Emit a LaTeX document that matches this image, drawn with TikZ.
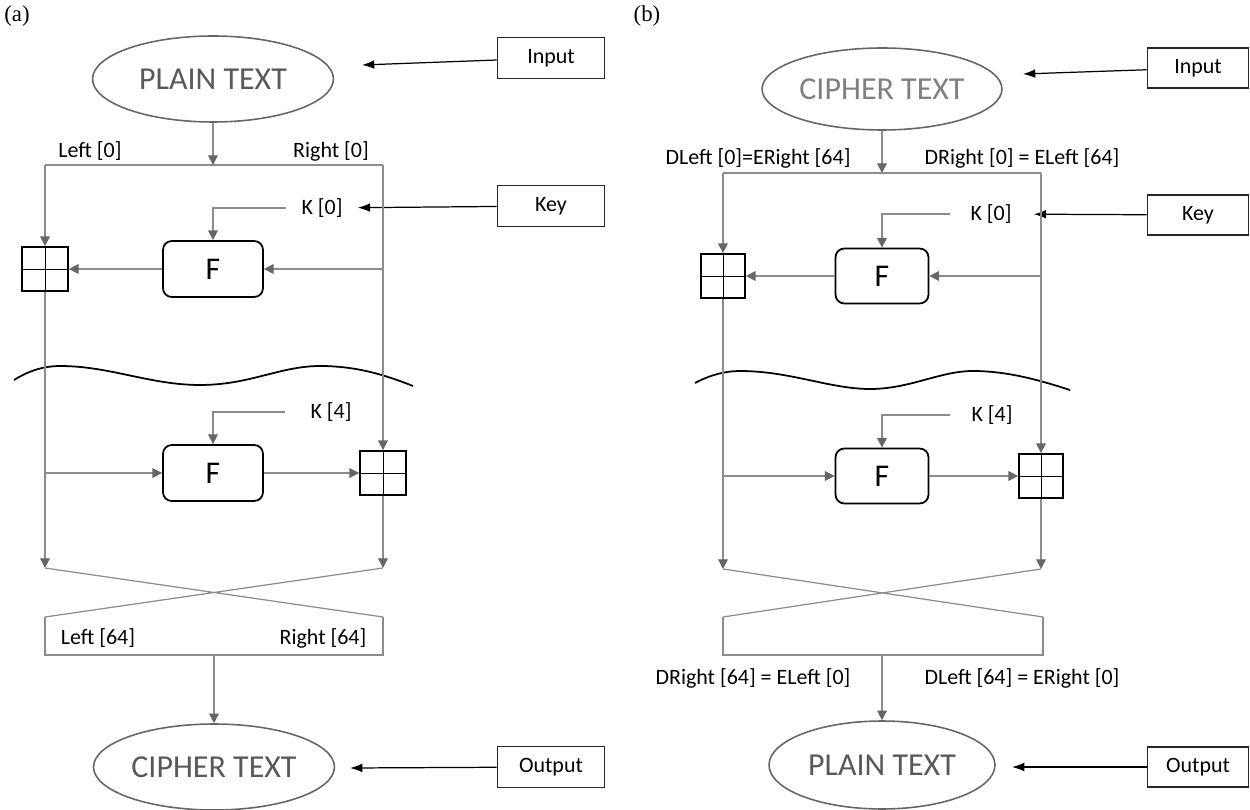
\documentclass[tikz,border=0pt]{standalone}
\usepackage{fontspec}
\setmainfont{Carlito}
\newfontfamily\panelfont{Liberation Serif}
\usetikzlibrary{shapes.geometric, arrows.meta, positioning, calc}

\begin{document}
\begin{tikzpicture}[x=0.02cm, y=-0.02cm,
  txt/.style={font=\fontsize{12.5}{14}\selectfont, inner sep=0pt},
  paneltag/.style={font=\panelfont\fontsize{13}{15}\selectfont, inner sep=0pt},
  oval/.style={ellipse, draw=black!60, line width=0.9pt, minimum width=4.82cm, minimum height=1.72cm, text=black!65, font=\fontsize{18.2}{20}\selectfont, inner sep=0pt},
  fbox/.style={rectangle, draw=black, rounded corners=5pt, line width=1pt, minimum width=2cm, minimum height=1.12cm, font=\fontsize{18}{20}\selectfont},
  xorbox/.style={rectangle, draw=black, line width=1pt, minimum width=0.92cm, minimum height=0.88cm, inner sep=0pt,
    path picture={\draw[line width=0.5pt] (path picture bounding box.north) -- (path picture bounding box.south) (path picture bounding box.west) -- (path picture bounding box.east);}},
  tagbox/.style={rectangle, draw=black!85, line width=0.9pt, minimum width=2.14cm, minimum height=0.82cm, font=\fontsize{12.5}{14}\selectfont},
  wire/.style={draw=black!45, line width=0.7pt},
  flow/.style={wire, -{Triangle[length=5.5pt, width=5.5pt, color=black!60]}},
  pointer/.style={draw=black, line width=0.7pt, -{Latex[length=7pt, width=5pt]}},
  wave/.style={draw=black, line width=1pt}]

\useasboundingbox (0,0) rectangle (1250,810);

% (a) encryption
\node[paneltag] (capa) at (17,16) {(a)};
\node[oval] (plaina) at (213,79) {PLAIN TEXT};
\node[tagbox] (ina) at (551,58) {Input};
\coordinate (ina-tip) at (362,65);
\draw[pointer] (ina) -- (ina-tip);

\coordinate (topa) at (213,165);
\coordinate (tla) at (45,165);
\coordinate (tra) at (383,165);
\draw[flow] (plaina) -- (topa);
\draw[wire] (tla) -- (tra);
\node[txt] (lefta0) at (90,151) {Left [0]};
\node[txt] (righta0) at (331,151) {Right [0]};

\node[xorbox] (xa1) at (45,269) {};
\node[fbox] (fa1) at (213,269) {F};
\node[txt] (ka0) at (322,208) {K [0]};
\node[tagbox] (keya) at (551,206) {Key};
\coordinate (ra1) at (383,269);
\draw[flow] (tla) -- (xa1);
\draw[flow] (ra1) -- (fa1);
\draw[flow] (fa1) -- (xa1);
\draw[flow] ([xshift=-0.3cm]ka0.west) -| (fa1);
\draw[pointer, shorten >=0.3cm] (keya) -- (ka0);

\draw[wave] (14,380) .. controls (30,370) and (45,366) .. (60,366)
  .. controls (110,366) and (150,385) .. (200,385)
  .. controls (250,385) and (280,366) .. (320,366)
  .. controls (360,366) and (390,377) .. (413,386);

\node[txt] (ka4) at (331,412) {K [4]};
\node[fbox] (fa2) at (213,473) {F};
\node[xorbox] (xa2) at (383,473) {};
\coordinate (la2) at (45,473);
\draw[flow] (la2) -- (fa2);
\draw[flow] (fa2) -- (xa2);
\draw[flow] ([xshift=-0.5cm]ka4.west) -| (fa2);
\draw[flow] (tra) -- (xa2);

\coordinate (bla) at (45,568);
\coordinate (bra) at (383,568);
\coordinate (cla) at (45,617);
\coordinate (cra) at (383,617);
\coordinate (dla) at (45,655);
\coordinate (dra) at (383,655);
\draw[flow] (xa1) -- (bla);
\draw[flow] (xa2) -- (bra);
\draw[wire] (bla) -- (cra) (bra) -- (cla);
\draw[wire] (cla) -- (dla) -- (dra) -- (cra);
\node[txt] (lefta64) at (98,638) {Left [64]};
\node[txt] (righta64) at (323,638) {Right [64]};

\node[oval] (ciphera) at (214,767) {CIPHER TEXT};
\coordinate (ma) at (214,655);
\draw[flow] (ma) -- (ciphera);
\node[tagbox] (outa) at (551,767) {Output};
\coordinate (outa-tip) at (350,768);
\draw[pointer] (outa) -- (outa-tip);

% (b) decryption
\node[paneltag] (capb) at (647,16) {(b)};
\node[oval, text=black!50, minimum width=4.8cm, minimum height=1.64cm] (cipherb) at (882,89) {CIPHER TEXT};
\node[tagbox, minimum width=2.02cm, minimum height=0.8cm] (inb) at (1198,68) {Input};
\coordinate (inb-tip) at (1023,74);
\draw[pointer] (inb) -- (inb-tip);

\coordinate (topb) at (882,173);
\coordinate (tlb) at (723,173);
\coordinate (trb) at (1041,173);
\draw[flow] (cipherb) -- (topb);
\draw[wire] (tlb) -- (trb);
\node[txt] (leftb0) at (758,158) {DLeft [0]=ERight [64]};
\node[txt] (rightb0) at (1022,158) {DRight [0] = ELeft [64]};

\node[xorbox, minimum width=0.88cm] (xb1) at (723,276) {};
\node[fbox, minimum width=1.86cm, minimum height=1.1cm] (fb1) at (882,276) {F};
\node[txt] (kb0) at (991,214) {K [0]};
\node[tagbox, minimum width=2.02cm, minimum height=0.8cm] (keyb) at (1198,215) {Key};
\coordinate (rb1) at (1041,276);
\draw[flow] (tlb) -- (xb1);
\draw[flow] (rb1) -- (fb1);
\draw[flow] (fb1) -- (xb1);
\draw[flow] ([xshift=-0.4cm]kb0.west) -| (fb1);
\draw[pointer, shorten >=0.44cm] (keyb) -- (kb0);

\draw[wave] (695,383) .. controls (710,375) and (725,371) .. (740,371)
  .. controls (790,371) and (830,389) .. (870,389)
  .. controls (910,389) and (940,371) .. (973,371)
  .. controls (1010,371) and (1045,382) .. (1070,390);

\node[txt] (kb4) at (992,415) {K [4]};
\node[fbox, minimum width=1.86cm, minimum height=1.1cm] (fb2) at (882,476) {F};
\node[xorbox, minimum width=0.88cm] (xb2) at (1041,476) {};
\coordinate (lb2) at (723,476);
\draw[flow] (lb2) -- (fb2);
\draw[flow] (fb2) -- (xb2);
\draw[flow] ([xshift=-0.42cm]kb4.west) -| (fb2);
\draw[flow] (trb) -- (xb2);

\coordinate (blb) at (723,569);
\coordinate (brb) at (1041,569);
\coordinate (clb) at (723,617);
\coordinate (crb) at (1043,617);
\coordinate (dlb) at (723,655);
\coordinate (drb) at (1043,655);
\draw[flow] (xb1) -- (blb);
\draw[flow] (xb2) -- (brb);
\draw[wire] (blb) -- (crb) (brb) -- (clb);
\draw[wire] (clb) -- (dlb) -- (drb) -- (crb);
\node[txt] (leftb64) at (753,678) {DRight [64] = ELeft [0]};
\node[txt] (rightb64) at (1022,678) {DLeft [64] = ERight [0]};

\node[oval, minimum width=4.52cm, minimum height=1.76cm] (plainb) at (882,765) {PLAIN TEXT};
\coordinate (mb) at (882,655);
\draw[flow] (mb) -- (plainb);
\node[tagbox, minimum width=2.02cm, minimum height=0.8cm] (outb) at (1198,767) {Output};
\coordinate (outb-tip) at (1012,767);
\draw[pointer] (outb) -- (outb-tip);

\end{tikzpicture}
\end{document}
